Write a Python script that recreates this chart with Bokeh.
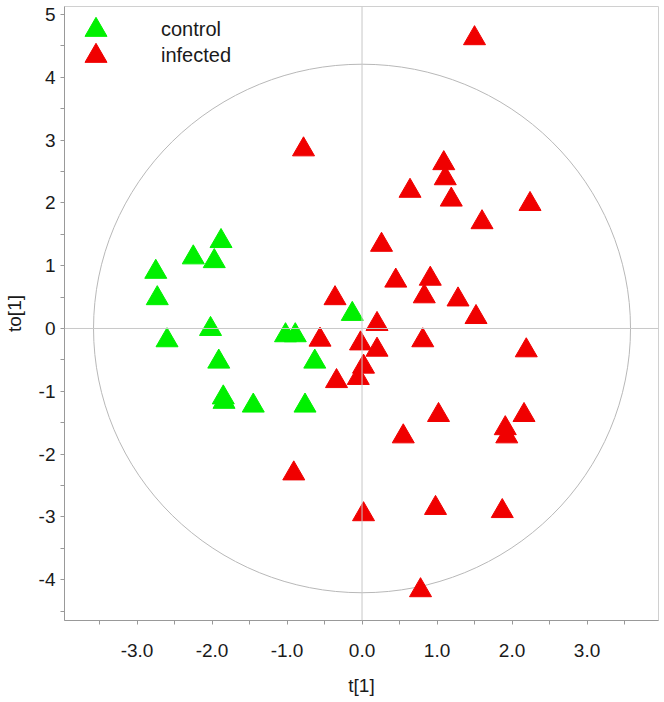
from bokeh.plotting import figure
from bokeh.models import Range1d, FixedTicker, Span, Legend, LegendItem, NumeralTickFormatter
from bokeh.embed import file_html
from bokeh.resources import INLINE

# ---- data ----
control_t = [-2.75, -2.73, -2.60, -2.25, -1.88, -1.97, -2.02, -1.02, -0.89,
             -1.91, -1.85, -1.84, -1.45, -0.76, -0.63, -0.13]
control_to = [0.90, 0.48, -0.19, 1.13, 1.39, 1.07, -0.01, -0.11, -0.11,
              -0.53, -1.10, -1.17, -1.23, -1.23, -0.53, 0.23]

infected_t = [1.50, -0.78, 1.09, 1.11, 1.19, 0.64, 2.24, 1.60, 0.26, 0.45,
              0.91, 0.83, 1.28, 1.52, -0.36, 0.20, -0.56, -0.02, 0.20, 0.81,
              2.19, 0.02, -0.34, -0.05, 1.02, 0.55, 2.16, 1.91, 1.93, -0.91,
              0.02, 0.98, 1.87, 0.78]
infected_to = [4.62, 2.85, 2.63, 2.39, 2.05, 2.19, 1.98, 1.69, 1.33, 0.76,
               0.79, 0.51, 0.46, 0.18, 0.48, 0.07, -0.18, -0.24, -0.34, -0.19,
               -0.35, -0.61, -0.84, -0.79, -1.38, -1.72, -1.38, -1.59, -1.72, -2.31,
               -2.96, -2.86, -2.91, -4.17]

# Hotelling T2 ellipse semi-axes
ellipse_a = 3.58
ellipse_b = 4.21

x_major = [-3, -2, -1, 0, 1, 2, 3]
x_minor = [-3.5, -2.5, -1.5, -0.5, 0.5, 1.5, 2.5, 3.5]
y_major = [-4, -3, -2, -1, 0, 1, 2, 3, 4, 5]
y_minor = [-4.5, -3.5, -2.5, -1.5, -0.5, 0.5, 1.5, 2.5, 3.5, 4.5]

FONT = "Liberation Sans"

p = figure(width=664, height=702, output_backend="svg", toolbar_location=None,
           x_range=Range1d(-3.967, 3.953), y_range=Range1d(-4.650, 5.127),
           min_border_left=64, min_border_right=6, min_border_top=6,
           min_border_bottom=82)
p.grid.visible = False
p.outline_line_color = "#d0d0d0"
p.outline_line_width = 1

# ellipse
p.ellipse(x=[0], y=[0], width=[2 * ellipse_a], height=[2 * ellipse_b],
          fill_alpha=0, line_color="#b8b8b8", line_width=1)

# cross lines
p.add_layout(Span(location=0, dimension="height", line_color="#c8c8c8", line_width=1))
p.add_layout(Span(location=0, dimension="width", line_color="#c8c8c8", line_width=1))

g = p.scatter(control_t, control_to, marker="triangle", size=22,
              fill_color="#00f000", line_color="#00f000", line_width=1)
r = p.scatter(infected_t, infected_to, marker="triangle", size=22,
              fill_color="#f00000", line_color="#f00000", line_width=1)

# axes
p.xaxis.ticker = FixedTicker(ticks=x_major, minor_ticks=x_minor)
p.yaxis.ticker = FixedTicker(ticks=y_major, minor_ticks=y_minor)
p.xaxis.formatter = NumeralTickFormatter(format="0.0")
p.yaxis.formatter = NumeralTickFormatter(format="0")
for ax in (p.xaxis, p.yaxis):
    ax.axis_line_color = "#999999"
    ax.major_tick_line_color = "#999999"
    ax.minor_tick_line_color = "#999999"
    ax.major_tick_in = 0
    ax.major_tick_out = 4
    ax.minor_tick_in = 0
    ax.minor_tick_out = 4
    ax.major_label_text_font = FONT
    ax.major_label_text_font_size = "19px"
    ax.major_label_text_color = "#1a1a1a"
    ax.axis_label_text_font = FONT
    ax.axis_label_text_font_size = "19px"
    ax.axis_label_text_font_style = "normal"
    ax.axis_label_text_color = "#1a1a1a"

p.xaxis.axis_label = "t[1]"
p.yaxis.axis_label = "to[1]"
p.xaxis.major_label_standoff = 19
p.xaxis.axis_label_standoff = 15
p.yaxis.major_label_standoff = 5
p.yaxis.axis_label_standoff = 11

common = dict(padding=0, margin=0, spacing=0,
              glyph_width=55, glyph_height=55, label_standoff=38,
              label_text_font=FONT, label_text_font_size="20px",
              label_text_color="#1a1a1a",
              background_fill_alpha=0, border_line_alpha=0)
legend_control = Legend(items=[LegendItem(label="control", renderers=[g])],
                        location=(4, 563), **common)
legend_infected = Legend(items=[LegendItem(label="infected", renderers=[r])],
                         location=(4, 537), **common)
p.add_layout(legend_control)
p.add_layout(legend_infected)

open("out.html", "w").write(file_html(p, INLINE))
